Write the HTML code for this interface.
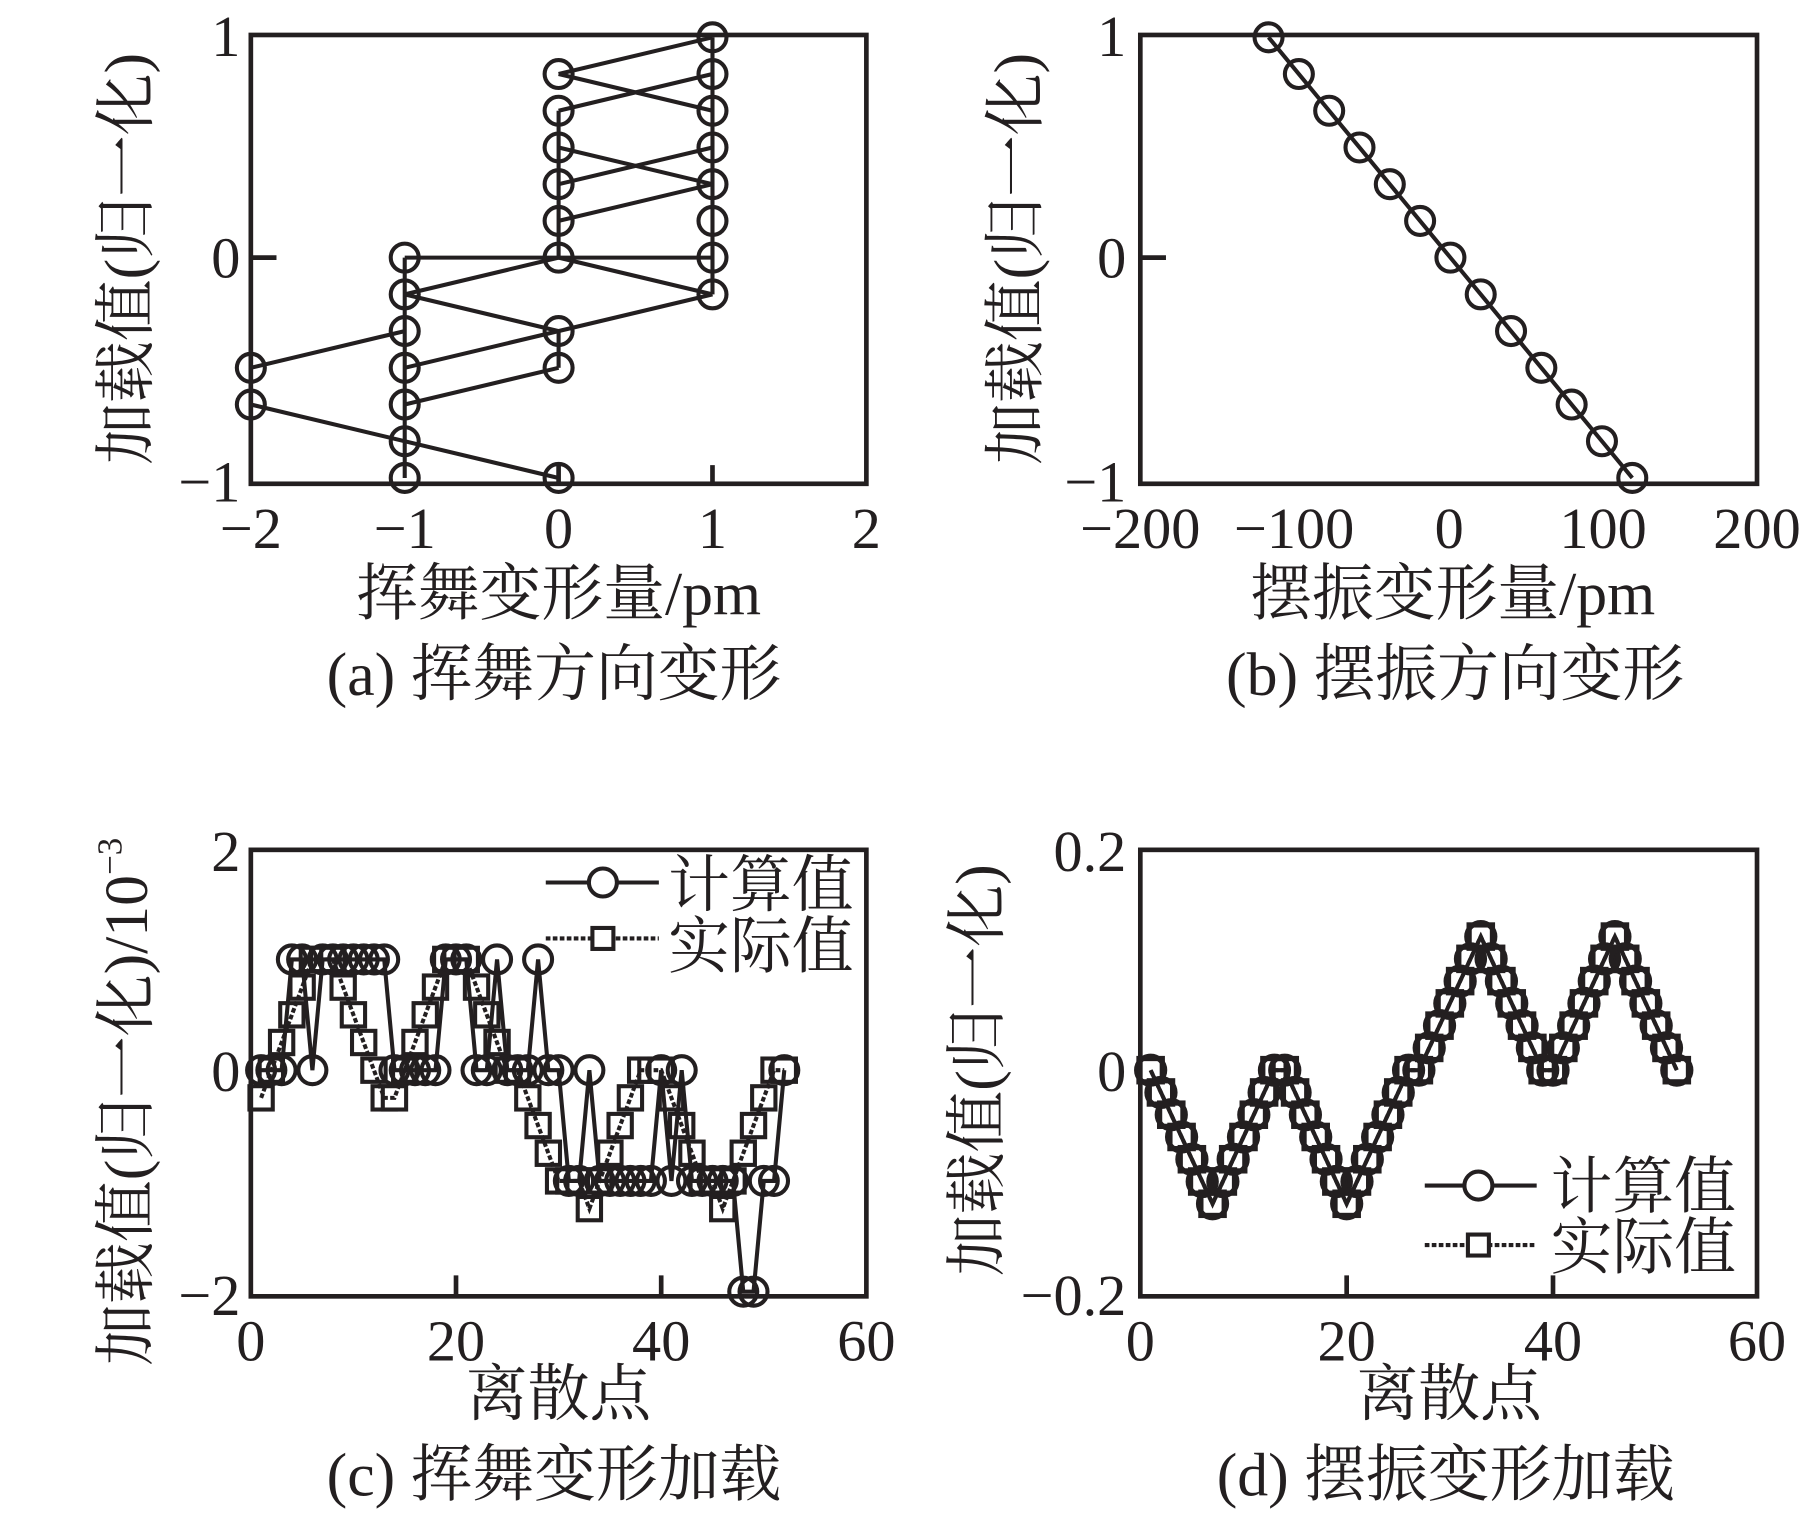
<!DOCTYPE html>
<html><head><meta charset="utf-8">
<style>
html,body{margin:0;padding:0;background:#fff;}
svg{display:block;}
text{fill:#231f20;}
.t{font-family:"Liberation Serif",serif;font-size:50px;}
.c{font-family:"Liberation Serif","Noto Serif CJK SC",serif;font-size:53px;}
</style></head>
<body>
<svg id="s" xmlns="http://www.w3.org/2000/svg" width="1819" height="1519" viewBox="0 0 1560 1303">
<g id="g" fill="none" stroke="#231f20" stroke-width="3.5"></g>
<g fill="none" stroke="#231f20" stroke-width="4">
<rect x="215" y="30" width="528" height="385"/>
<rect x="978" y="30" width="529" height="385"/>
<rect x="215" y="729" width="528" height="383"/>
<rect x="978" y="729" width="529" height="383"/>
<path d="M215 221h22M479 415v-16M611 415v-16M978 221h22M391 1112v-18M567 1112v-18M1155 1112v-18M1332 1112v-18"/>
</g>
<g class="t" text-anchor="end">
<text x="206" y="48">1</text><text x="206" y="238">0</text><text x="206" y="430">−1</text>
<text x="966" y="48">1</text><text x="966" y="238">0</text><text x="966" y="430">−1</text>
<text x="206" y="747">2</text><text x="206" y="936">0</text><text x="206" y="1128">−2</text>
<text x="966" y="747">0.2</text><text x="966" y="936">0</text><text x="966" y="1128">−0.2</text>
</g>
<g class="t" text-anchor="middle">
<text x="215" y="470">−2</text><text x="347" y="470">−1</text><text x="479" y="470">0</text><text x="611" y="470">1</text><text x="743" y="470">2</text>
<text x="978" y="470">−200</text><text x="1110" y="470">−100</text><text x="1243" y="470">0</text><text x="1375" y="470">100</text><text x="1507" y="470">200</text>
<text x="215" y="1167">0</text><text x="391" y="1167">20</text><text x="567" y="1167">40</text><text x="743" y="1167">60</text>
<text x="978" y="1167">0</text><text x="1155" y="1167">20</text><text x="1332" y="1167">40</text><text x="1507" y="1167">60</text>
</g>
<g class="c" text-anchor="middle">
<text x="479" y="527">挥舞变形量/pm</text>
<text x="1246" y="527">摆振变形量/pm</text>
<text x="475" y="596">(a) 挥舞方向变形</text>
<text x="1248" y="596">(b) 摆振方向变形</text>
<text x="479" y="1214">离散点</text>
<text x="1243" y="1214">离散点</text>
<text x="475" y="1283">(c) 挥舞变形加载</text>
<text x="1240" y="1283">(d) 摆振变形加载</text>
<text transform="translate(126,222) rotate(-90)">加载值(归一化)</text>
<text transform="translate(889,222) rotate(-90)">加载值(归一化)</text>
<text transform="translate(126,945) rotate(-90)">加载值(归一化)/10<tspan font-size="30" dy="-22">−3</tspan></text>
<text transform="translate(856,918) rotate(-90)">加载值(归一化)</text>
</g>
<g class="c">
<text x="573" y="777">计算值</text><text x="573" y="830">实际值</text>
<text x="1330" y="1036">计算值</text><text x="1330" y="1088">实际值</text>
</g>
<g fill="#fff" stroke="#231f20" stroke-width="3.5">
<path d="M468 757H565" fill="none"/><circle cx="517" cy="757" r="12"/>
<path d="M468 805H565" fill="none" stroke-dasharray="4 2"/><rect x="508" y="796" width="18" height="18"/>
<path d="M1222 1017H1318" fill="none"/><circle cx="1268" cy="1017" r="12"/>
<path d="M1222 1068H1318" fill="none" stroke-dasharray="4 2"/><rect x="1259" y="1059" width="18" height="18"/>
</g>
</svg>
<script>
var g=document.getElementById('g'),NS="http://www.w3.org/2000/svg";
function el(t,a){var e=document.createElementNS(NS,t);for(var k in a)e.setAttribute(k,a[k]);g.appendChild(e);return e;}
function line(pts,dash){el('polyline',{points:pts.map(function(p){return p[0]+','+p[1]}).join(' '),'stroke-dasharray':dash||''});}
var ax=function(x){return 479+x*132}, ay=function(y){return 221-y*189};
var segs=[[[0,5],[1,6]],[[0,5],[1,4]],[[0,4],[1,5]],[[0,3],[1,2]],[[0,2],[1,3]],[[0,1],[1,2]],[[0,4],[0,0]],[[1,6],[1,-1]],[[-1,0],[1,0]],[[-1,-1],[0,0]],[[-1,-1],[0,-2]],[[0,0],[1,-1]],[[1,-1],[-1,-3]],[[-2,-3],[-1,-2]],[[-1,-4],[0,-3]],[[0,-2],[0,-3]],[[-2,-4],[0,-6]],[[-1,0],[-1,-6]],[[-2,-3],[-2,-4]]];
segs.forEach(function(q){line(q.map(function(p){return [ax(p[0]),ay(p[1]/6)]}))});
var ca=[[1,6],[1,5],[1,4],[1,3],[1,2],[1,1],[1,0],[1,-1],[0,5],[0,4],[0,3],[0,2],[0,1],[0,0],[0,-2],[0,-3],[0,-6],[-1,0],[-1,-1],[-1,-2],[-1,-3],[-1,-4],[-1,-5],[-1,-6],[-2,-3],[-2,-4]];
ca.forEach(function(p){el('circle',{cx:ax(p[0]),cy:ay(p[1]/6),r:12,fill:'none'})});
var bp=[];for(var i=0;i<=12;i++){bp.push([1088+i*(1400-1088)/12,32+i*(410-32)/12]);}
line(bp);bp.forEach(function(p){el('circle',{cx:p[0],cy:p[1],r:12,fill:'none'})});
var cx=function(i){return 215+i*8.8}, cy=function(v){return 918-v*95};
var act=[-0.25,0,0.25,0.5,0.75,1,1,1,0.75,0.5,0.25,0,-0.25,-0.25,0,0.25,0.5,0.75,1,1,1,0.75,0.5,0.25,0,0,-0.25,-0.5,-0.75,-1,-1,-1,-1.25,-1,-0.75,-0.5,-0.25,0,0,0,-0.25,-0.5,-0.75,-1,-1,-1.25,-1,-0.75,-0.5,-0.25,0,0];
var cal=[0,0,0,1,1,0,1,1,1,1,1,1,1,0,0,0,0,0,1,1,1,0,0,1,0,0,0,1,0,0,-1,-1,0,-1,-1,-1,-1,-1,-1,0,-1,0,-1,-1,-1,-1,-1,-2,-2,-1,-1,0];
var pa=act.map(function(v,i){return [cx(i+1),cy(v)]}), pc=cal.map(function(v,i){return [cx(i+1),cy(v)]});
pa.forEach(function(p){el('rect',{x:p[0]-10,y:p[1]-10,width:20,height:20,fill:'#fff'})});
line(pa,'4 2');
line(pc);
pc.forEach(function(p){el('circle',{cx:p[0],cy:p[1],r:12,fill:'none'})});
var dx=function(i){return 978+i*8.85}, dy=function(v){return 918-v*955};
var dv=[0],v=0;
function run(n,st){for(var k=0;k<n;k++){v+=st;dv.push(Math.round(v*100)/100);}}
function hold(){dv.push(Math.round(v*100)/100);}
run(6,-0.02);run(6,0.02);hold();run(6,-0.02);run(6,0.02);hold();run(6,0.02);run(6,-0.02);hold();run(6,0.02);run(6,-0.02);
var pd=dv.map(function(v,i){return [dx(i+1),dy(v)]});
pd.forEach(function(p){el('rect',{x:p[0]-10,y:p[1]-10,width:20,height:20,fill:'none','stroke-width':4.5})});
line(pd,'4 2');line(pd);
pd.forEach(function(p){el('circle',{cx:p[0],cy:p[1],r:12,fill:'none','stroke-width':4.5})});
</script>
</body></html>
